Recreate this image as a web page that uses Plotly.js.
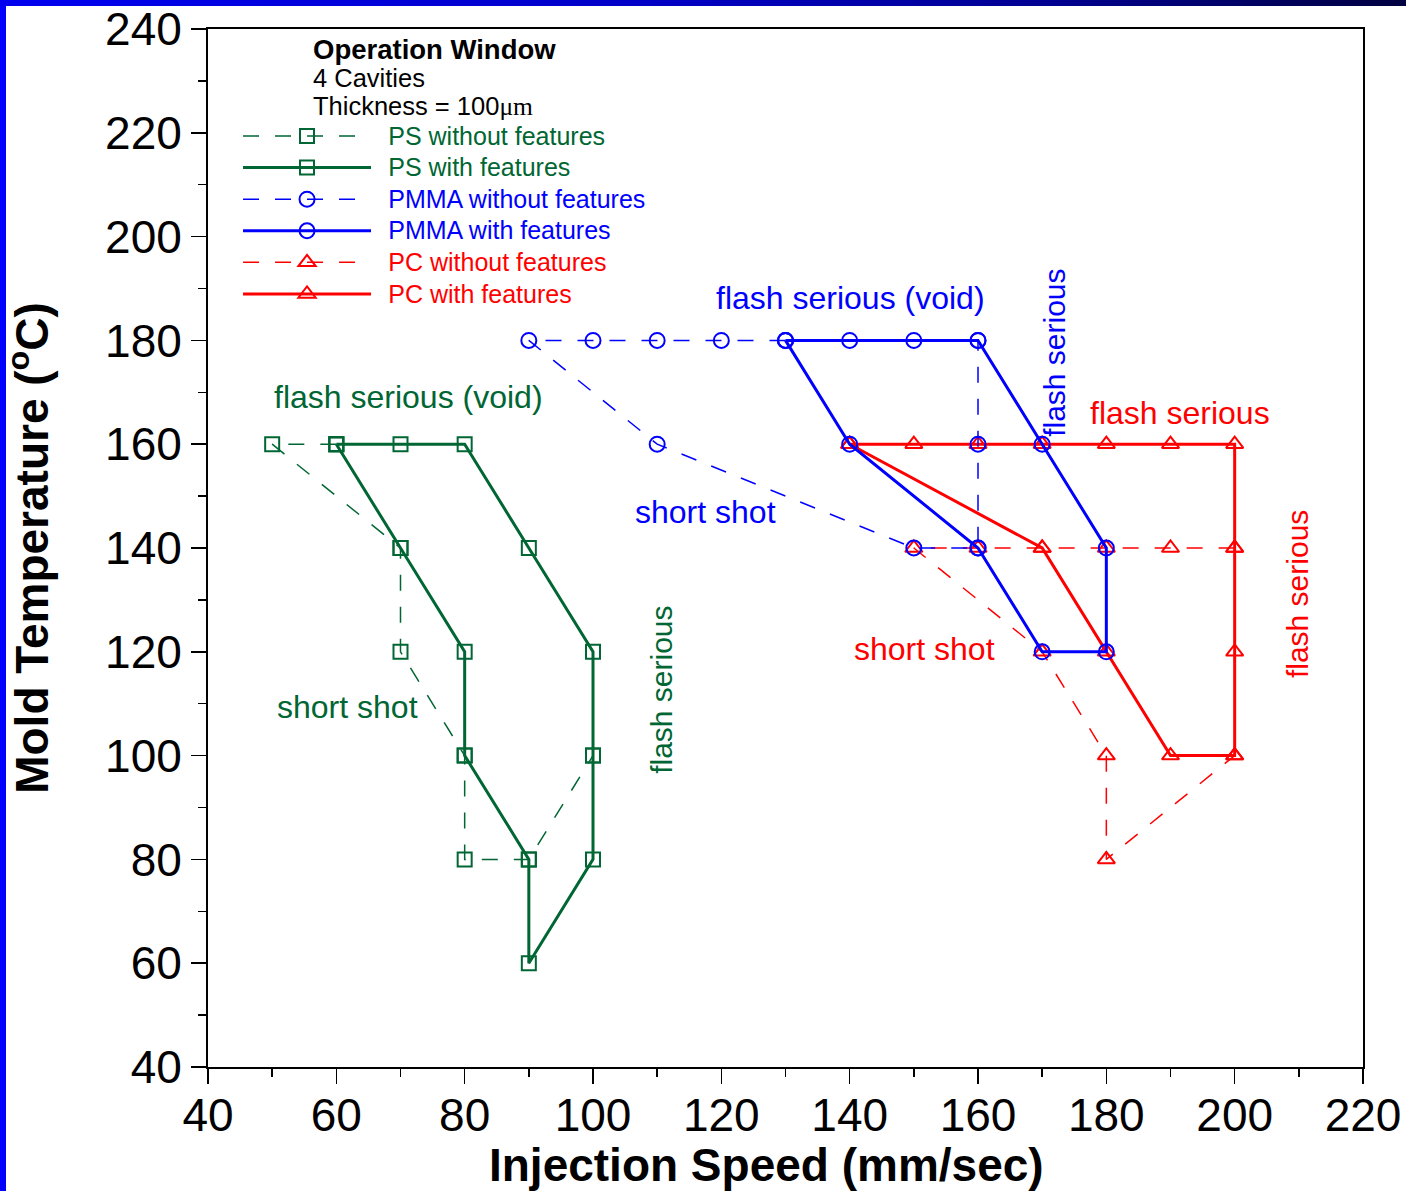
<!DOCTYPE html>
<html>
<head>
<meta charset="utf-8">
<script src="https://cdn.plot.ly/plotly-3.0.1.min.js"></script>
<style>
  html, body { margin: 0; padding: 0; background: #ffffff; }
  #wrap { position: relative; width: 1406px; height: 1191px; overflow: hidden; }
  #chart { position: absolute; left: 0; top: 0; width: 1406px; height: 1191px; }
  #leftbar { position: absolute; left: 0; top: 0; width: 6px; height: 1191px; background: #0000ff; z-index: 5; }
  #topbar { position: absolute; left: 0; top: 0; width: 1406px; height: 6px; z-index: 5;
            background: linear-gradient(to right, #0000f0 0%, #0000c8 45%, #000090 75%, #000040 100%); }
</style>
</head>
<body>
<div id="wrap">
  <div id="chart"></div>
  <div id="leftbar"></div>
  <div id="topbar"></div>
</div>
<script>
// ---- data ----
const psWithoutX   = [60, 50, 70, 70, 80, 80, 90, 100];
const psWithoutY   = [160, 160, 140, 120, 100, 80, 80, 100];

const psWithX      = [60, 70, 80, 90, 100, 100, 100, 90, 90, 80, 80, 70, 60];
const psWithY      = [160, 160, 160, 140, 120, 100, 80, 60, 80, 100, 120, 140, 160];

const pmmaWithoutX = [130, 120, 110, 100, 90, 110, 150, 160, 160, 160];
const pmmaWithoutY = [180, 180, 180, 180, 180, 160, 140, 140, 160, 180];

const pmmaWithX    = [130, 140, 150, 160, 170, 180, 180, 170, 160, 140, 130];
const pmmaWithY    = [180, 180, 180, 180, 160, 140, 120, 120, 140, 160, 180];

const pcWithoutX   = [200, 190, 180, 170, 160, 150, 170, 180, 180, 200];
const pcWithoutY   = [140, 140, 140, 140, 140, 140, 120, 100, 80, 100];

const pcWithX      = [140, 150, 160, 170, 180, 190, 200, 200, 200, 200, 190, 180, 170, 140];
const pcWithY      = [160, 160, 160, 160, 160, 160, 160, 140, 120, 100, 100, 120, 140, 160];

const seriesNames = [
  "PS without features", "PS with features",
  "PMMA without features", "PMMA with features",
  "PC without features", "PC with features"
];

const GREEN = "#006633", BLUE = "#0000ff", RED = "#ff0000";
const FONT = "Liberation Sans, Arial, sans-serif";
const DASH = "16px,16px";
const NB = "\u00a0";

function tr(x, y, name, color, dashed, symbol, size, rank) {
  return {
    type: "scatter", mode: "lines+markers", x: x, y: y,
    name: NB + NB + '<span style="font-size:25px;color:' + color + '">' + name + '</span>',
    legendrank: rank,
    line: { color: color, width: dashed ? 1.5 : 3, dash: dashed ? DASH : "solid" },
    marker: { symbol: symbol, size: size, color: color, line: { color: color, width: 2 } },
    cliponaxis: false
  };
}

const traces = [
  tr(psWithoutX, psWithoutY, seriesNames[0], GREEN, true, "square-open", 14, 1),
  tr(psWithX, psWithY, seriesNames[1], GREEN, false, "square-open", 14, 2),
  tr(pcWithoutX, pcWithoutY, seriesNames[4], RED, true, "triangle-up-open", 15, 5),
  tr(pcWithX, pcWithY, seriesNames[5], RED, false, "triangle-up-open", 15, 6),
  tr(pmmaWithoutX, pmmaWithoutY, seriesNames[2], BLUE, true, "circle-open", 15, 3),
  tr(pmmaWithX, pmmaWithY, seriesNames[3], BLUE, false, "circle-open", 15, 4)
];

function ann(text, x, y, color, size, angle) {
  return {
    text: text, x: x, y: y, xref: "x", yref: "y", showarrow: false,
    font: { family: FONT, size: size, color: color }, textangle: angle || 0,
    xanchor: "center", yanchor: "middle"
  };
}

const annotations = [
  { text: "<b>Operation Window</b>", xref: "paper", yref: "paper", x: 0.090, y: 0.9805,
    xanchor: "left", yanchor: "middle", showarrow: false, borderpad: 0,
    font: { family: FONT, size: 27.5, color: "#000" } },
  { text: "4 Cavities", xref: "paper", yref: "paper", x: 0.090, y: 0.9525,
    xanchor: "left", yanchor: "middle", showarrow: false, borderpad: 0,
    font: { family: FONT, size: 25.5, color: "#000" } },
  { text: 'Thickness = 100<span style="font-family:Liberation Serif, Times New Roman, serif">μm</span>',
    xref: "paper", yref: "paper", x: 0.090, y: 0.9255,
    xanchor: "left", yanchor: "middle", showarrow: false, borderpad: 0,
    font: { family: FONT, size: 25.5, color: "#000" } },
  ann("flash serious (void)", 71.2, 169.1, GREEN, 32),
  ann("flash serious (void)", 140.2, 188.2, BLUE, 32),
  ann("flash serious", 191.5, 166.0, RED, 32),
  ann("short shot", 61.8, 109.4, GREEN, 32),
  ann("short shot", 117.5, 146.9, BLUE, 32),
  ann("short shot", 151.7, 120.5, RED, 32),
  ann("flash serious", 110.7, 112.6, GREEN, 30, -90),
  ann("flash serious", 172.0, 177.6, BLUE, 30, -90),
  ann("flash serious", 209.7, 131.1, RED, 30, -90)
];

const axisCommon = {
  showline: true, linecolor: "#000", linewidth: 2, mirror: true,
  ticks: "outside", ticklen: 15, tickwidth: 1.5, tickcolor: "#000",
  showgrid: false, zeroline: false,
  tickfont: { family: FONT, size: 46, color: "#000" },
  minor: { ticks: "outside", ticklen: 8, tickwidth: 1.5, tickcolor: "#000", dtick: 10, showgrid: false }
};

const layout = {
  width: 1406, height: 1191,
  margin: { l: 208, r: 43, t: 29, b: 124 },
  paper_bgcolor: "#ffffff", plot_bgcolor: "#ffffff",
  showlegend: true,
  legend: {
    x: 0.026, y: 0.917, xanchor: "left", yanchor: "top",
    font: { family: FONT, size: 22 },
    bgcolor: "rgba(0,0,0,0)", borderwidth: 0,
    itemwidth: 128, tracegroupgap: 0, traceorder: "normal"
  },
  xaxis: Object.assign({}, axisCommon, {
    range: [40, 220], dtick: 20, tick0: 40, ticklabelstandoff: -8,
    title: { text: "<b>Injection Speed (mm/sec)" + NB + NB + NB + "</b>", font: { family: FONT, size: 46, color: "#000" }, standoff: 16 }
  }),
  yaxis: Object.assign({}, axisCommon, {
    range: [40, 240], dtick: 20, tick0: 40,
    title: { text: "<b>Mold Temperature (<sup>o</sup>C)</b>", font: { family: FONT, size: 46, color: "#000" }, standoff: 44 }
  }),
  annotations: annotations
};

Plotly.newPlot("chart", traces, layout, { staticPlot: true, displayModeBar: false });
</script>
</body>
</html>
